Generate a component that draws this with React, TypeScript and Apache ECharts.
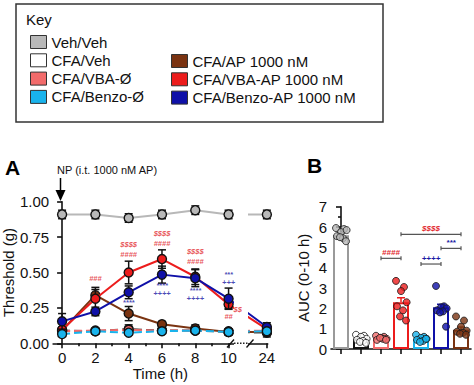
import React, { useEffect, useRef } from 'react';
import * as echarts from 'echarts';

// ---------------- Data ----------------
const hours = [0, 2, 4, 6, 8, 10, 24];
const majorHourTicks = [0, 2, 4, 6, 8, 10, 24];
const minorHourTicks = [1, 3, 5, 7, 9];
const BREAK_POS = 12.3; // axis position used for the 24 h point (after the axis break)

const groupNames = [
  'Veh/Veh',
  'CFA/Veh',
  'CFA/VBA-Ø',
  'CFA/Benzo-Ø',
  'CFA/AP 1000 nM',
  'CFA/VBA-AP 1000 nM',
  'CFA/Benzo-AP 1000 nM',
];

// Panel A: threshold (g) at each hour, mean and SEM
const thrVehVeh = [0.91, 0.91, 0.885, 0.91, 0.94, 0.91, 0.91];
const semVehVeh = [0.03, 0.03, 0.03, 0.03, 0.03, 0.03, 0.03];
const thrCfaVeh = [0.09, 0.085, 0.1, 0.09, 0.09, 0.08, 0.075];
const semCfaVeh = [0.02, 0.02, 0.03, 0.02, 0.02, 0.02, 0.03];
const thrVbaEmpty = [0.085, 0.09, 0.095, 0.09, 0.09, 0.085, 0.09];
const semVbaEmpty = [0.015, 0.015, 0.02, 0.015, 0.015, 0.015, 0.015];
const thrBenzoEmpty = [0.065, 0.085, 0.075, 0.085, 0.09, 0.08, 0.085];
const semBenzoEmpty = [0.01, 0.01, 0.015, 0.01, 0.01, 0.01, 0.01];
const thrAp = [0.09, 0.34, 0.21, 0.135, 0.105, 0.08, 0.08];
const semAp = [0.02, 0.04, 0.05, 0.02, 0.025, 0.015, 0.02];
const thrVbaAp = [0.095, 0.315, 0.5, 0.595, 0.47, 0.275, 0.1];
const semVbaAp = [0.02, 0.08, 0.08, 0.065, 0.055, 0.03, 0.02];
const thrBenzoAp = [0.155, 0.225, 0.36, 0.485, 0.46, 0.315, 0.115];
const semBenzoAp = [0.055, 0.03, 0.045, 0.06, 0.06, 0.075, 0.03];

const thresholds = [thrVehVeh, thrCfaVeh, thrVbaEmpty, thrBenzoEmpty, thrAp, thrVbaAp, thrBenzoAp];
const thresholdSems = [semVehVeh, semCfaVeh, semVbaEmpty, semBenzoEmpty, semAp, semVbaAp, semBenzoAp];

// Panel A significance marks: [hour, threshold level, text, colour key]
const annotHours = [2, 4, 4, 6, 6, 8, 8, 10, 10.55, 4, 6, 6, 8, 8, 10, 10];
const annotLevels = [0.455, 0.7, 0.625, 0.775, 0.705, 0.645, 0.58, 0.19, 0.24, 0.29, 0.405, 0.35, 0.37, 0.315, 0.485, 0.43];
const annotTexts = ['###', '$$$$', '####', '$$$$', '####', '$$$$', '####', '##', '$$', '****', '****', '++++', '****', '++++', '***', '+++'];
const annotColorKeys = ['r', 'r', 'r', 'r', 'r', 'r', 'r', 'r', 'r', 'b', 'b', 'b', 'b', 'b', 'b', 'b'];

// Panel B: AUC (0-10 h)
const aucOrder = [0, 1, 2, 5, 3, 6, 4]; // group index for each bar
const aucMeans = [5.6, 0.5, 0.55, 2.3, 0.5, 2.05, 0.95];
const aucSems = [0.1, 0.05, 0.04, 0.22, 0.05, 0.15, 0.13];
const aucPoints = [
  [5.95, 5.9, 5.75, 5.85, 5.55, 5.45, 5.5, 5.3],
  [0.7, 0.65, 0.6, 0.5, 0.45, 0.4, 0.35, 0.3],
  [0.65, 0.6, 0.55, 0.5, 0.45, 0.5, 0.55, 0.45],
  [3.35, 3.05, 2.85, 2.3, 2.1, 1.9, 1.6, 1.4],
  [0.7, 0.6, 0.55, 0.5, 0.45, 0.4, 0.35, 0.5],
  [3.1, 2.1, 2.05, 2.0, 1.9, 1.85, 1.8, 1.1],
  [1.6, 1.4, 1.1, 0.9, 0.85, 0.8, 0.75, 0.7],
];
const jitter = [-0.25, 0.15, 0.0, 0.28, -0.2, 0.1, -0.05, 0.25];

// Panel B brackets
const bracketFrom = [2, 3, 4, 5];
const bracketTo = [3, 6, 5, 6];
const bracketLevels = [4.46, 5.64, 4.18, 4.95];
const bracketTexts = ['####', '$$$$', '++++', '***'];
const bracketColorKeys = ['r', 'r', 'b', 'b'];

// ---------------- Styles ----------------
const FF = 'Arial, "Liberation Sans", Helvetica, sans-serif';
const fills = ['#b8b8b8', '#ffffff', '#f26b6b', '#19b3ec', '#7a3311', '#ec1c1c', '#0f10a8'];
const lineColors = ['#b8b8b8', '#444444', '#f26b6b', '#19b3ec', '#7a3311', '#ec1c1c', '#0f10a8'];
const barBorders = ['#9a9a9a', '#111111', '#f26b6b', '#19b3ec', '#7a3311', '#ec1c1c', '#0f10a8'];
const lineTypes = ['solid', 'dashed', 'dashed', 'dashed', 'solid', 'solid', 'solid'];
const lineZ = [3, 3.2, 3.3, 3.9, 3.5, 3.6, 3.7];
const markColors: Record<string, string> = { r: '#e2262c', b: '#1a1aa5' };

const pos = (h: number) => (h === 24 ? BREAK_POS : h);

function errRenderA(params: any, api: any) {
  const x = api.value(0), y = api.value(1), e = api.value(2);
  const p1 = api.coord([x, y + e]);
  const p2 = api.coord([x, y - e]);
  const w = 4;
  const st = { stroke: '#111', lineWidth: 1.5 };
  return {
    type: 'group',
    children: [
      { type: 'line', shape: { x1: p1[0], y1: p1[1], x2: p2[0], y2: p2[1] }, style: st },
      { type: 'line', shape: { x1: p1[0] - w, y1: p1[1], x2: p1[0] + w, y2: p1[1] }, style: st },
      { type: 'line', shape: { x1: p2[0] - w, y1: p2[1], x2: p2[0] + w, y2: p2[1] }, style: st },
    ],
  };
}

function errRenderB(params: any, api: any) {
  const k = params.dataIndex;
  const x = api.value(0), y = api.value(1), e = api.value(2);
  const p1 = api.coord([x, y + e]);
  const p2 = api.coord([x, y]);
  const w = 4;
  const st = { stroke: barBorders[aucOrder[k]], lineWidth: 1.5 };
  return {
    type: 'group',
    children: [
      { type: 'line', shape: { x1: p1[0], y1: p1[1], x2: p2[0], y2: p2[1] }, style: st },
      { type: 'line', shape: { x1: p1[0] - w, y1: p1[1], x2: p1[0] + w, y2: p1[1] }, style: st },
    ],
  };
}

function bracketRender(params: any, api: any) {
  const i = params.dataIndex;
  const a = api.coord([api.value(0), api.value(2)]);
  const b = api.coord([api.value(1), api.value(2)]);
  const st = { stroke: '#555', lineWidth: 1.2 };
  return {
    type: 'group',
    children: [
      { type: 'line', shape: { x1: a[0], y1: a[1], x2: b[0], y2: b[1] }, style: st },
      { type: 'line', shape: { x1: a[0], y1: a[1] - 2, x2: a[0], y2: a[1] + 2 }, style: st },
      { type: 'line', shape: { x1: b[0], y1: b[1] - 2, x2: b[0], y2: b[1] + 2 }, style: st },
      {
        type: 'text',
        style: {
          x: (a[0] + b[0]) / 2,
          y: a[1] - 6,
          text: bracketTexts[i],
          fill: markColors[bracketColorKeys[i]],
          font: `italic bold 8px ${FF}`,
          align: 'center',
          verticalAlign: 'middle',
        },
      },
    ],
  };
}

export default function App() {
  const ref = useRef<HTMLDivElement>(null);

  useEffect(() => {
    if (!ref.current) return;
    const chart = echarts.init(ref.current, undefined, { renderer: 'svg' });

    const series: any[] = [];
    groupNames.forEach((name, g) => {
      series.push({
        type: 'custom',
        name,
        xAxisIndex: 0,
        yAxisIndex: 0,
        renderItem: errRenderA,
        data: hours.map((h, i) => [pos(h), thresholds[g][i], thresholdSems[g][i]]),
        z: lineZ[g] - 0.05,
        silent: true,
      });
      series.push({
        type: 'line',
        name,
        xAxisIndex: 0,
        yAxisIndex: 0,
        data: hours.map((h, i) => [pos(h), thresholds[g][i]]),
        symbol: 'circle',
        symbolSize: 9,
        itemStyle: { color: fills[g], borderColor: '#111', borderWidth: 1.4 },
        lineStyle: { color: lineColors[g], width: 2, type: lineTypes[g] },
        z: lineZ[g],
        clip: false,
        silent: true,
      });
    });

    series.push({
      type: 'scatter',
      xAxisIndex: 0,
      yAxisIndex: 0,
      symbolSize: 0,
      silent: true,
      z: 60,
      data: annotTexts.map((t, i) => ({
        value: [annotHours[i], annotLevels[i]],
        label: {
          show: true,
          position: 'inside',
          formatter: t,
          color: markColors[annotColorKeys[i]],
          fontSize: 7.5,
          lineHeight: 7,
          fontWeight: 'bold',
          fontStyle: 'italic',
          fontFamily: FF,
        },
      })),
    });

    // Panel B
    series.push({
      type: 'bar',
      xAxisIndex: 2,
      yAxisIndex: 1,
      barWidth: 16,
      silent: true,
      z: 2,
      data: aucOrder.map((g, k) => ({
        value: [k, aucMeans[k]],
        itemStyle: { color: '#ffffff', borderColor: barBorders[g], borderWidth: 2 },
      })),
    });
    series.push({
      type: 'custom',
      xAxisIndex: 2,
      yAxisIndex: 1,
      renderItem: errRenderB,
      silent: true,
      z: 3,
      data: aucOrder.map((g, k) => [k, aucMeans[k], aucSems[k]]),
    });
    aucOrder.forEach((g, k) => {
      series.push({
        type: 'scatter',
        xAxisIndex: 2,
        yAxisIndex: 1,
        symbol: 'circle',
        symbolSize: 7,
        silent: true,
        z: 4,
        itemStyle: { color: fills[g], borderColor: '#1a1a1a', borderWidth: 1 },
        data: aucPoints[k].map((v, j) => [k + jitter[j], v]),
      });
    });
    series.push({
      type: 'custom',
      xAxisIndex: 2,
      yAxisIndex: 1,
      renderItem: bracketRender,
      silent: true,
      z: 5,
      data: bracketTexts.map((t, i) => [bracketFrom[i], bracketTo[i], bracketLevels[i]]),
    });

    const legendItem = (g: number) => ({
      name: groupNames[g],
      icon: 'rect',
      itemStyle: { color: fills[g], borderColor: '#333', borderWidth: 1, borderType: 'solid' },
    });
    const legendBase = {
      orient: 'vertical',
      itemWidth: 16,
      itemHeight: 13,
      itemGap: 3.3,
      selectedMode: false,
      textStyle: { fontSize: 15, fontFamily: FF, color: '#111' },
    };

    const axisLineStyle = { color: '#111', width: 1.6 };
    const axisLabelStyle = { color: '#111', fontSize: 15, fontFamily: FF };

    const option: any = {
      animation: false,
      textStyle: { fontFamily: FF },
      legend: [
        { ...legendBase, left: 25, top: 29.5, data: [0, 1, 2, 3].map(legendItem) },
        { ...legendBase, left: 166, top: 48.5, data: [4, 5, 6].map(legendItem) },
      ],
      grid: [
        { left: 52.7, top: 201.7, width: 215, height: 141.6 },
        { left: 331, top: 206.7, width: 140, height: 142.3 },
      ],
      xAxis: [
        {
          gridIndex: 0,
          type: 'value',
          min: -0.54,
          max: 12.35,
          axisLine: { lineStyle: axisLineStyle },
          axisTick: { length: 5, lineStyle: axisLineStyle, customValues: majorHourTicks.map(pos) },
          axisLabel: {
            ...axisLabelStyle,
            margin: 7,
            customValues: majorHourTicks.map(pos),
            formatter: (v: number) => (Math.abs(v - BREAK_POS) < 1e-6 ? '24' : String(Math.round(v))),
          },
          splitLine: { show: false },
          name: 'Time (h)',
          nameLocation: 'middle',
          nameGap: 23,
          nameTextStyle: { color: '#111', fontSize: 15, fontFamily: FF },
        },
        {
          gridIndex: 0,
          type: 'value',
          position: 'bottom',
          min: -0.54,
          max: 12.35,
          axisLine: { show: false },
          axisTick: { length: 3, lineStyle: axisLineStyle, customValues: minorHourTicks },
          axisLabel: { show: false },
          splitLine: { show: false },
        },
        {
          gridIndex: 1,
          type: 'value',
          min: -0.5,
          max: 6.5,
          axisLine: { lineStyle: axisLineStyle },
          axisTick: { length: 5, lineStyle: axisLineStyle, customValues: [0, 1, 2, 3, 4, 5, 6] },
          axisLabel: { show: false },
          splitLine: { show: false },
        },
      ],
      yAxis: [
        {
          gridIndex: 0,
          type: 'value',
          min: 0,
          max: 1,
          interval: 0.25,
          axisLine: { show: true, lineStyle: axisLineStyle },
          axisTick: { show: true, length: 5, lineStyle: axisLineStyle },
          axisLabel: { ...axisLabelStyle, margin: 4, formatter: (v: number) => v.toFixed(2) },
          splitLine: { show: false },
          name: 'Threshold (g)',
          nameLocation: 'middle',
          nameGap: 35,
          nameTextStyle: { color: '#111', fontSize: 15, fontFamily: FF },
        },
        {
          gridIndex: 1,
          type: 'value',
          min: 0,
          max: 7,
          interval: 1,
          axisLine: { show: true, lineStyle: axisLineStyle },
          axisTick: { show: true, length: 5, lineStyle: axisLineStyle },
          minorTick: { show: true, splitNumber: 2, length: 3, lineStyle: axisLineStyle },
          axisLabel: { ...axisLabelStyle, margin: 4 },
          splitLine: { show: false },
          name: 'AUC (0-10 h)',
          nameLocation: 'middle',
          nameGap: 20,
          nameTextStyle: { color: '#111', fontSize: 15, fontFamily: FF },
        },
      ],
      graphic: [
        // Key box
        { type: 'rect', shape: { x: 16, y: 4, width: 367, height: 118 }, style: { fill: 'none', stroke: '#333', lineWidth: 1.5 }, z: 1, silent: true },
        { type: 'text', x: 26, y: 19.5, style: { text: 'Key', font: `15px ${FF}`, fill: '#111', verticalAlign: 'middle' }, z: 1, silent: true },
        // panel letters
        { type: 'text', x: 5, y: 167.5, style: { text: 'A', font: `bold 21px ${FF}`, fill: '#000', verticalAlign: 'middle' }, silent: true },
        { type: 'text', x: 307, y: 165.5, style: { text: 'B', font: `bold 21px ${FF}`, fill: '#000', verticalAlign: 'middle' }, silent: true },
        // NP arrow annotation
        { type: 'text', x: 57, y: 170, style: { text: 'NP (i.t. 1000 nM AP)', font: `11px ${FF}`, fill: '#111', verticalAlign: 'middle' }, silent: true },
        { type: 'line', shape: { x1: 60.5, y1: 178, x2: 60.5, y2: 192 }, style: { stroke: '#000', lineWidth: 1.5 }, silent: true },
        { type: 'polygon', shape: { points: [[55.5, 190], [65.5, 190], [60.5, 201]] }, style: { fill: '#000' }, silent: true },
        // axis break
        { type: 'rect', shape: { x: 234, y: 196, width: 14, height: 149.5 }, style: { fill: '#fff' }, z: 50, silent: true },
        { type: 'line', shape: { x1: 234, y1: 343.3, x2: 247.5, y2: 343.3 }, style: { stroke: '#222', lineWidth: 1.4, lineDash: [1.5, 1.5] }, z: 51, silent: true },
        { type: 'line', shape: { x1: 227, y1: 347.5, x2: 234, y2: 339.5 }, style: { stroke: '#111', lineWidth: 1.4 }, z: 51, silent: true },
        { type: 'line', shape: { x1: 246.5, y1: 347.5, x2: 253.5, y2: 339.5 }, style: { stroke: '#111', lineWidth: 1.4 }, z: 51, silent: true },
      ],
      series,
    };

    chart.setOption(option);
    return () => chart.dispose();
  }, []);

  return (
    <div
      ref={ref}
      style={{ position: 'fixed', left: 0, top: 0, width: 474, height: 385, background: '#fff' }}
    />
  );
}
